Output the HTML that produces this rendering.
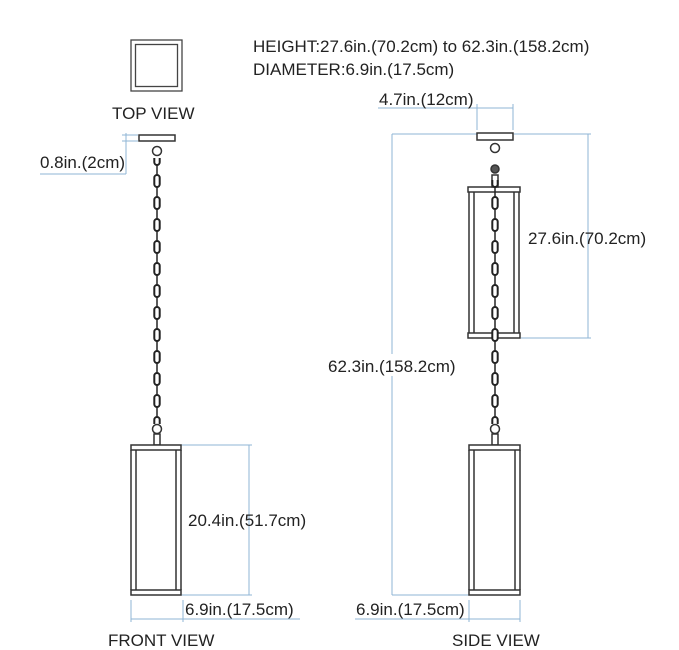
<!DOCTYPE html>
<html><head><style>body{margin:0;background:#fff}svg{display:block}</style></head>
<body>
<svg width="679" height="650" viewBox="0 0 679 650" xmlns="http://www.w3.org/2000/svg" font-family="Liberation Sans, sans-serif">
<defs>
<pattern id="chainF" x="153" y="150" width="8" height="22" patternUnits="userSpaceOnUse">
<line x1="4" y1="0" x2="4" y2="22" stroke="#222" stroke-width="1.5"/>
<rect x="1.3" y="3" width="5.4" height="12" rx="2.7" fill="#fff" stroke="#222" stroke-width="2"/>
</pattern>
<pattern id="chainS" x="491" y="150" width="8" height="22" patternUnits="userSpaceOnUse">
<line x1="4" y1="0" x2="4" y2="22" stroke="#222" stroke-width="1.5"/>
<rect x="1.3" y="3" width="5.4" height="12" rx="2.7" fill="#fff" stroke="#222" stroke-width="2"/>
</pattern>
</defs>
<g fill="none" stroke="#444" stroke-width="1.3">
<rect x="131" y="40" width="51" height="51"/>
<rect x="135.5" y="44.5" width="42" height="42"/>
</g>
<g font-size="17" fill="#222">
<text x="112" y="119">TOP VIEW</text>
<text x="253" y="52">HEIGHT:27.6in.(70.2cm) to 62.3in.(158.2cm)</text>
<text x="253" y="75">DIAMETER:6.9in.(17.5cm)</text>
</g>

<g stroke="#8fb6d6" stroke-width="1" fill="none">
<line x1="122" y1="135" x2="138" y2="135"/><line x1="122" y1="141" x2="138" y2="141"/>
<line x1="126" y1="133" x2="126" y2="174"/><line x1="40" y1="174" x2="126" y2="174"/>
<line x1="181" y1="445" x2="252" y2="445"/><line x1="181" y1="595" x2="252" y2="595"/>
<line x1="249" y1="445" x2="249" y2="595"/>
<line x1="131" y1="600" x2="131" y2="622"/><line x1="183" y1="600" x2="183" y2="622"/>
<line x1="131" y1="619" x2="300" y2="619"/>
<line x1="477" y1="104" x2="477" y2="130"/><line x1="513" y1="104" x2="513" y2="130"/>
<line x1="378" y1="108" x2="513" y2="108"/>
<line x1="392" y1="134" x2="477" y2="134"/><line x1="514" y1="134" x2="591" y2="134"/>
<line x1="392" y1="134" x2="392" y2="595"/><line x1="392" y1="595" x2="469" y2="595"/>
<line x1="588" y1="134" x2="588" y2="338"/><line x1="521" y1="338" x2="591" y2="338"/>
<line x1="469" y1="600" x2="469" y2="622"/><line x1="520" y1="600" x2="520" y2="622"/>
<line x1="355" y1="619" x2="520" y2="619"/>
</g>
<rect x="326" y="354" width="136" height="22" fill="#fff"/>
<g font-size="17" fill="#222">
<text x="40" y="168">0.8in.(2cm)</text>
<text x="188" y="526">20.4in.(51.7cm)</text>
<text x="185" y="615">6.9in.(17.5cm)</text>
<text x="108" y="646">FRONT VIEW</text>
<text x="379" y="105">4.7in.(12cm)</text>
<text x="328" y="372">62.3in.(158.2cm)</text>
<text x="528" y="244">27.6in.(70.2cm)</text>
<text x="356" y="615">6.9in.(17.5cm)</text>
<text x="452" y="646">SIDE VIEW</text>
</g>

<g stroke="#333" stroke-width="1.5" fill="#fff">
<rect x="139" y="135" width="36" height="6"/>
<circle cx="157" cy="151" r="4.5"/>
<rect x="153" y="158" width="8" height="266" fill="url(#chainF)" stroke="none"/>
<circle cx="157" cy="429" r="4.5"/>
<rect x="154" y="434" width="6" height="11"/>
<rect x="131" y="445" width="50" height="5"/>
<rect x="131" y="590" width="50" height="5"/>
<line x1="131" y1="450" x2="131" y2="590"/><line x1="136" y1="450" x2="136" y2="590"/>
<line x1="176" y1="450" x2="176" y2="590"/><line x1="181" y1="450" x2="181" y2="590"/>
</g>

<g stroke="#333" stroke-width="1.5" fill="#fff">
<rect x="477" y="133" width="36" height="7"/>
<circle cx="495" cy="148" r="4.5"/>
<circle cx="495" cy="169" r="4" fill="#555"/>
<rect x="492" y="175" width="6" height="12"/>
<rect x="468" y="187" width="52" height="5" fill="none"/>
<rect x="468" y="333" width="52" height="5" fill="none"/>
<g fill="none">
<line x1="469" y1="192" x2="469" y2="333"/><line x1="474" y1="192" x2="474" y2="333"/>
<line x1="514" y1="192" x2="514" y2="333"/><line x1="519" y1="192" x2="519" y2="333"/>
</g>
<rect x="491" y="180" width="8" height="244" fill="url(#chainS)" stroke="none"/>
<circle cx="495" cy="429" r="4.5"/>
<rect x="492" y="434" width="6" height="11"/>
<rect x="469" y="445" width="51" height="5"/>
<rect x="469" y="590" width="51" height="5"/>
<line x1="469" y1="450" x2="469" y2="590"/><line x1="474" y1="450" x2="474" y2="590"/>
<line x1="515" y1="450" x2="515" y2="590"/><line x1="520" y1="450" x2="520" y2="590"/>
</g>
</svg>
</body></html>
